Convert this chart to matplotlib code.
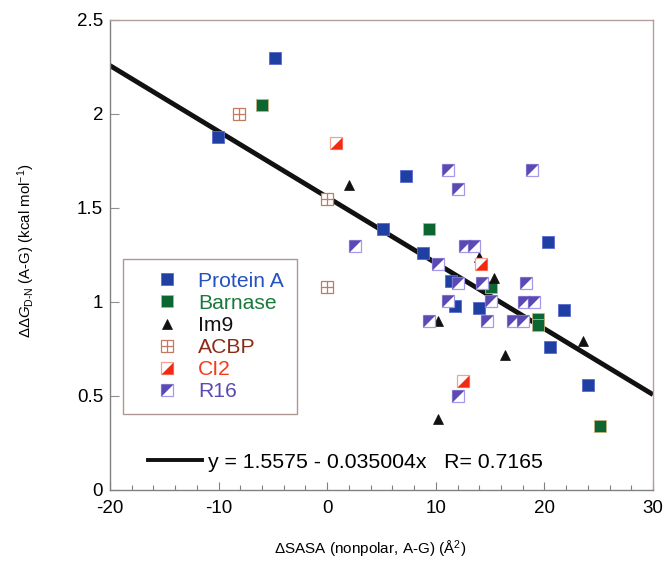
import matplotlib
matplotlib.use("Agg")
import matplotlib.pyplot as plt
from matplotlib.lines import Line2D
from matplotlib.legend_handler import HandlerTuple
import numpy as np

plt.rcParams['font.family'] = ['Liberation Sans', 'DejaVu Sans']
plt.rcParams['axes.unicode_minus'] = False
plt.rcParams['mathtext.fontset'] = 'custom'
plt.rcParams['mathtext.rm'] = 'Liberation Sans'
plt.rcParams['mathtext.it'] = 'Liberation Sans:italic'

# ---- data ----
proteinA_x = [-4.8, -10.1, 5.1, 7.3, 8.8, 20.3, 11.4, 11.8, 14.0, 21.8, 20.5, 24.0]
proteinA_y = [2.30, 1.88, 1.39, 1.67, 1.26, 1.32, 1.11, 0.98, 0.97, 0.96, 0.76, 0.56]
barnase_x = [-6.0, 9.4, 15.1, 19.4, 19.4, 25.1]
barnase_y = [2.05, 1.39, 1.08, 0.91, 0.88, 0.34]
im9_x = [2.0, 14.0, 15.4, 10.2, 16.4, 23.6, 10.2]
im9_y = [1.62, 1.24, 1.13, 0.90, 0.72, 0.79, 0.38]
acbp_x = [-8.1, 0.0, 0.0]
acbp_y = [2.00, 1.55, 1.08]
ci2_x = [0.8, 14.2, 12.5]
ci2_y = [1.845, 1.20, 0.58]
r16_x = [11.1, 18.9, 12.0, 12.7, 13.5, 2.6, 10.2, 12.0, 14.3, 18.3, 11.1, 15.1,
         18.1, 19.0, 9.4, 14.7, 17.1, 18.0, 12.0]
r16_y = [1.70, 1.70, 1.60, 1.30, 1.30, 1.30, 1.20, 1.10, 1.10, 1.10, 1.005, 1.005,
         1.00, 1.00, 0.90, 0.90, 0.90, 0.90, 0.50]

fit_intercept = 1.5575
fit_slope = -0.035004
fit_R = 0.7165

x_ticks = [-20, -10, 0, 10, 20, 30]
y_ticks = [0, 0.5, 1, 1.5, 2, 2.5]
y_ticklabels = ['0', '0.5', '1', '1.5', '2', '2.5']

# ---- styles ----
c_protA = '#1f3fa3'
c_barn = '#0b6631'
c_im9 = '#111111'
c_acbp = '#c47a62'
c_ci2 = '#f22a12'
c_r16 = '#5a4ab4'
ms = 8.0

fig = plt.figure(figsize=(6.65, 5.67), dpi=100)
ax = fig.add_axes([110/665, 1-490/567, (653-110)/665, (490-20)/567])

tri_lr = [(-1, -1), (1, -1), (1, 1)]
tri_ul = [(-1, -1), (-1, 1), (1, 1)]

# regression line
xx = np.array([-20, 30])
ax.plot(xx, fit_intercept + fit_slope * xx, color='#111111', lw=3.5, zorder=2,
        solid_capstyle='butt')

h_pa, = ax.plot(proteinA_x, proteinA_y, ls='none', marker='s', ms=ms,
                mfc=c_protA, mec='#5a6ad0', mew=0.6, zorder=3)
h_b, = ax.plot(barnase_x, barnase_y, ls='none', marker='s', ms=ms,
               mfc=c_barn, mec='#c8b080', mew=0.6, zorder=3)
h_i, = ax.plot(im9_x, im9_y, ls='none', marker='^', ms=7.4,
               mfc=c_im9, mec=c_im9, mew=0.5, zorder=3)
h_a1, = ax.plot(acbp_x, acbp_y, ls='none', marker='s', ms=ms,
                mfc='white', mec=c_acbp, mew=0.9, zorder=3)
h_a2, = ax.plot(acbp_x, acbp_y, ls='none', marker='+', ms=ms,
                mec=c_acbp, mew=0.9, zorder=3)
h_c1, = ax.plot(ci2_x, ci2_y, ls='none', marker='s', ms=ms,
                mfc='white', mec='#f7a090', mew=0.9, zorder=3)
h_c2, = ax.plot(ci2_x, ci2_y, ls='none', marker=tri_lr, ms=ms,
                mfc=c_ci2, mec='none', zorder=3)
h_r1, = ax.plot(r16_x, r16_y, ls='none', marker='s', ms=ms,
                mfc='white', mec='#a898e8', mew=0.9, zorder=3)
h_r2, = ax.plot(r16_x, r16_y, ls='none', marker=tri_ul, ms=ms,
                mfc=c_r16, mec='none', zorder=3)

ax.set_xlim(-20, 30)
ax.set_ylim(0, 2.5)
ax.set_xticks(x_ticks)
ax.set_xticks(np.arange(-20, 31, 2), minor=True)
ax.set_yticks(y_ticks)
ax.set_yticklabels(y_ticklabels)
ax.tick_params(axis='x', which='major', direction='in', length=6, width=0.8,
               color='#808080', labelsize=13.5, pad=7)
ax.tick_params(axis='x', which='minor', direction='in', length=3.4, width=0.8,
               color='#808080')
ax.tick_params(axis='y', direction='in', length=6.5, width=0.8, color='#909090',
               labelsize=13.5, pad=5)
for s in ['left', 'bottom']:
    ax.spines[s].set_color('#808080')
    ax.spines[s].set_linewidth(1.0)
for s in ['top', 'right']:
    ax.spines[s].set_color('#b0a09c')
    ax.spines[s].set_linewidth(1.0)

ax.set_xlabel('ΔSASA (nonpolar, A-G) (Å$^{2}$)', fontsize=11)
ax.xaxis.set_label_coords((370 - 110) / 543, (490 - 539) / 470)
ax.set_ylabel('ΔΔ$G_{\\mathrm{D\\text{-}N}}$ (A-G) (kcal mol$^{-1}$)', fontsize=10.8)
ax.yaxis.set_label_coords((37 - 110) / 543, (490 - 251) / 470)

# species legend
handles = [h_pa, h_b, h_i, (h_a1, h_a2), (h_c1, h_c2), (h_r1, h_r2)]
labels = ['Protein A', 'Barnase', 'Im9', 'ACBP', 'CI2', 'R16']
label_colors = ['#2452c0', '#1a7a3c', '#111111', '#8a2c18', '#f23c1c', '#5a4ab4']
bx0 = (123 - 110) / 543
by0 = (490 - 413) / 470
bw = (297 - 123) / 543
bh = (413 - 259) / 470
leg = ax.legend(handles, labels, loc='upper left', bbox_to_anchor=(bx0, by0, bw, bh),
                mode='expand', frameon=True, fancybox=False, fontsize=15.2,
                handler_map={tuple: HandlerTuple(ndivide=1)},
                handlelength=3.0, handletextpad=-0.05, labelspacing=0.15,
                borderpad=0.6, borderaxespad=0, labelcolor=label_colors)
leg.get_frame().set_edgecolor('#9a7e76')
leg.get_frame().set_linewidth(1.0)
ax.add_artist(leg)

# fit legend
fit_handle = Line2D([], [], color='#111111', lw=2.8)
fit_label = f'y = {fit_intercept} - {abs(fit_slope):.6f}x   R= {fit_R}'
leg2 = ax.legend([fit_handle], [fit_label], loc='center left',
                 bbox_to_anchor=((148 - 110) / 543, (490 - 462) / 470),
                 frameon=False, fontsize=15.3, handlelength=2.55,
                 handletextpad=0.25, borderpad=0, borderaxespad=0)

fig.savefig('out.png', dpi=100)
